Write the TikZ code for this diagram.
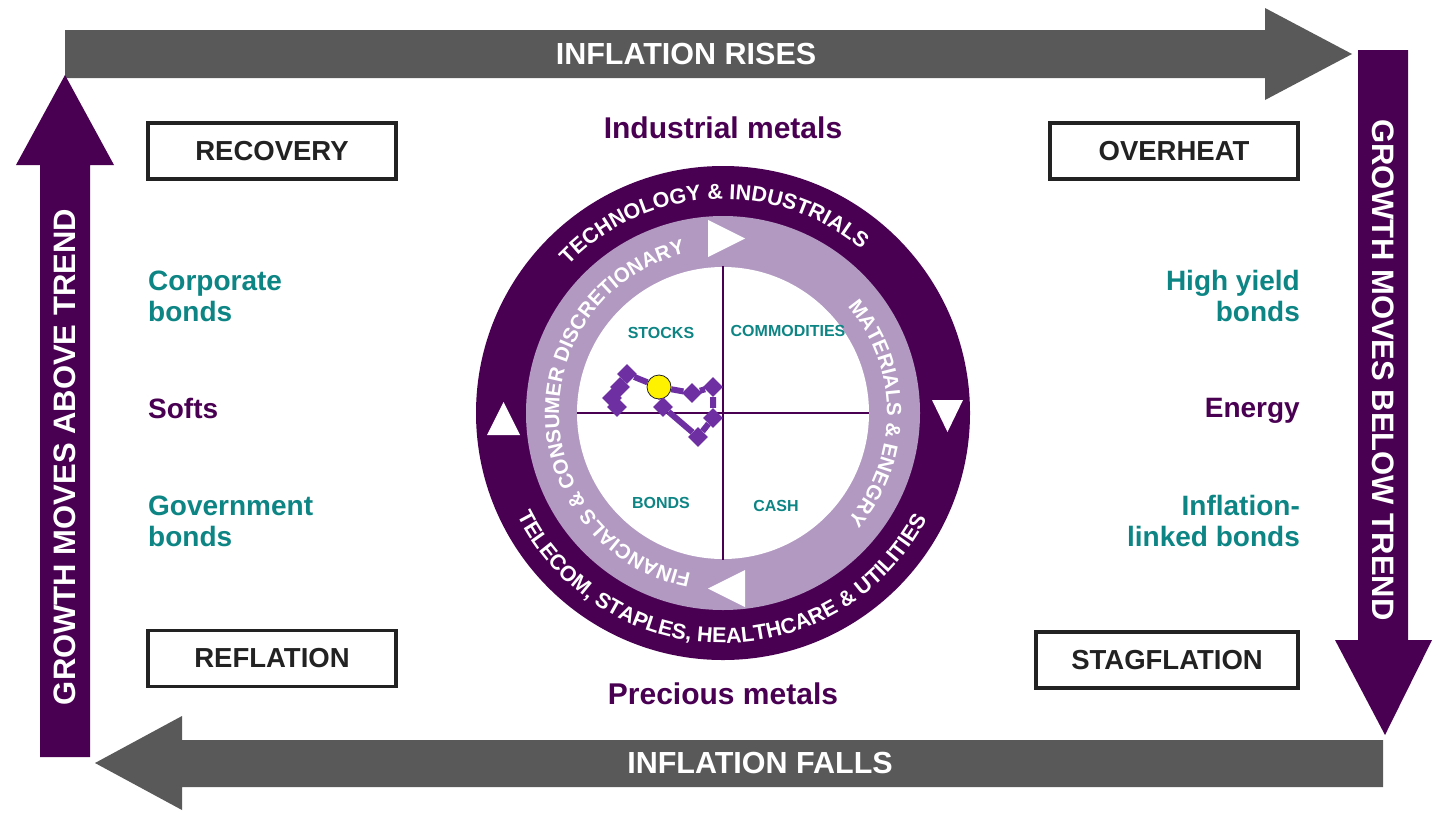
\documentclass[tikz,border=0pt]{standalone}
\usepackage{fontspec}
\setmainfont{Liberation Sans}
\usetikzlibrary{positioning,decorations.text,shapes.geometric}
\definecolor{plum}{HTML}{4A0052}
\definecolor{lilac}{HTML}{B299C2}
\definecolor{slate}{HTML}{595959}
\definecolor{sea}{HTML}{0E8585}
\definecolor{ink}{HTML}{222222}
\definecolor{trail}{HTML}{6E2FA3}
\newcommand{\pxfont}[1]{\fontsize{#1}{#1}\selectfont\bfseries}
\newcommand{\rimfont}{\fontsize{21.5}{21.5}\selectfont\bfseries\color{white}}
\newcommand{\hubfont}{\fontsize{20.5}{20.5}\selectfont\bfseries\color{white}}
\tikzset{
  phase/.style={draw=ink,line width=3.5pt,fill=white,minimum width=248pt,minimum height=56pt,inner sep=0pt,text=ink,font=\pxfont{27.5}},
  asset/.style={text=sea,inner sep=0pt,font=\fontsize{28}{31}\selectfont\bfseries},
  goods/.style={text=plum,inner sep=0pt,font=\pxfont{28}},
  quad/.style={text=sea,inner sep=0pt,font=\pxfont{16}},
  band/.style={text=white,inner sep=0pt,font=\pxfont{30.5}},
  knot/.style={diamond,fill=trail,minimum size=20pt,inner sep=0pt},
  ringtxt/.style={decorate,decoration={text along path,text align=center,text={#1}}},
}

\begin{document}
\begin{tikzpicture}[x=1pt,y=-1pt]
  \fill[white] (0,0) rectangle (1439,817);
  \useasboundingbox (0,0) rectangle (1439,817);

  % outer cycle
  \fill[slate] (65,30) -- (1265,30) -- (1265,8) -- (1352,54) -- (1265,100) -- (1265,78) -- (65,78) -- cycle;
  \fill[plum] (1358,50) -- (1408,50) -- (1408,640) -- (1432,640) -- (1385,735) -- (1335,640) -- (1358,640) -- cycle;
  \fill[slate] (1383,740) -- (182,740) -- (182,716) -- (95,763) -- (182,810) -- (182,787) -- (1383,787) -- cycle;
  \fill[plum] (40,757) -- (40,165) -- (16,165) -- (65,75) -- (114,165) -- (90,165) -- (90,757) -- cycle;
  \node[band] (rises) at (686,54) {INFLATION RISES};
  \node[band] (falls) at (760,763) {INFLATION FALLS};
  \node[band,font=\pxfont{31},rotate=90] (above) at (65,457) {GROWTH MOVES ABOVE TREND};
  \node[band,font=\pxfont{31},rotate=-90] (below) at (1383,370) {GROWTH MOVES BELOW TREND};

  \node[phase] (recovery) at (272,151) {RECOVERY};
  \node[phase] (reflation) [below=448pt of recovery] {REFLATION};
  \node[phase] (overheat) at (1174,151) {OVERHEAT};
  \node[phase,minimum width=262pt] (stagflation) at (1167,660) {STAGFLATION};

  \node[asset,anchor=west,align=left] (corp) at (148,296) {Corporate\\bonds};
  \node[goods,anchor=west] (softs) at (148,408) {Softs};
  \node[asset,anchor=west,align=left] (govt) at (148,521) {Government\\bonds};
  \node[asset,anchor=east,align=right] (hy) at (1300,296) {High yield\\bonds};
  \node[goods,anchor=east] (energy) at (1300,411) {Energy};
  \node[asset,anchor=east,align=right] (linkers) at (1300,521) {Inflation-\\linked bonds};
  \node[goods,font=\pxfont{30}] (indmet) at (723,128) {Industrial metals};
  \node[goods,font=\pxfont{30}] (premet) at (723,694) {Precious metals};

  % clock
  \coordinate (hub) at (723,413);
  \fill[plum] (hub) circle[radius=247];
  \fill[lilac] (hub) circle[radius=197];
  \fill[white] (hub) circle[radius=146];
  \draw[plum,line width=2.5pt] ([xshift=-146pt]hub) -- ([xshift=146pt]hub);
  \draw[plum,line width=2.5pt] ([yshift=-147pt]hub) -- ([yshift=147pt]hub);
  \fill[white] (708,220) -- (745,238.5) -- (708,257) -- cycle;
  \fill[white] (745,570) -- (708,588.5) -- (745,607) -- cycle;
  \fill[white] (487,435) -- (503.5,402) -- (520,435) -- cycle;
  \fill[white] (932,400) -- (963,400) -- (947.5,432) -- cycle;
  \begin{scope}[shift={(hub)},y=1pt]
    \path[ringtxt={|\rimfont|TECHNOLOGY {\&} INDUSTRIALS}] (175:214) arc[start angle=175,end angle=11,radius=214];
    \path[ringtxt={|\rimfont|TELECOM, STAPLES, HEALTHCARE {\&} UTILITIES}] (185:230) arc[start angle=185,end angle=354,radius=230];
    \path[ringtxt={|\hubfont|FINANCIALS {\&} CONSUMER DISCRETIONARY}] (300:164) arc[start angle=300,end angle=62,radius=164];
    \path[ringtxt={|\hubfont|MATERIALS {\&} ENEGRY}] (80:164) arc[start angle=80,end angle=-80,radius=164];
  \end{scope}

  \node[quad] (stocks) at (661,333) {STOCKS};
  \node[quad] (cmdty) at (788,331) {COMMODITIES};
  \node[quad] (bonds) at (661,503) {BONDS};
  \node[quad] (cash) at (776,506) {CASH};

  \foreach \i/\u/\v in {1/627/374,2/620/387,3/612/398,4/617/407,5/692/393,6/713/387,7/713/418,8/698/437,9/663/407}
    \node[knot] (k\i) at (\u,\v) {};
  \node[circle,fill=yellow,draw=ink,line width=0.8pt,minimum size=24pt,inner sep=0pt] (sun) at (659,387) {};
  \draw[trail,line width=6pt,line join=round] (k4) -- (k3) -- (k2) -- (k1) -- (sun) -- (k5) -- (k6) -- (k7) -- (k8) -- (k9) -- (sun);
\end{tikzpicture}
\end{document}
